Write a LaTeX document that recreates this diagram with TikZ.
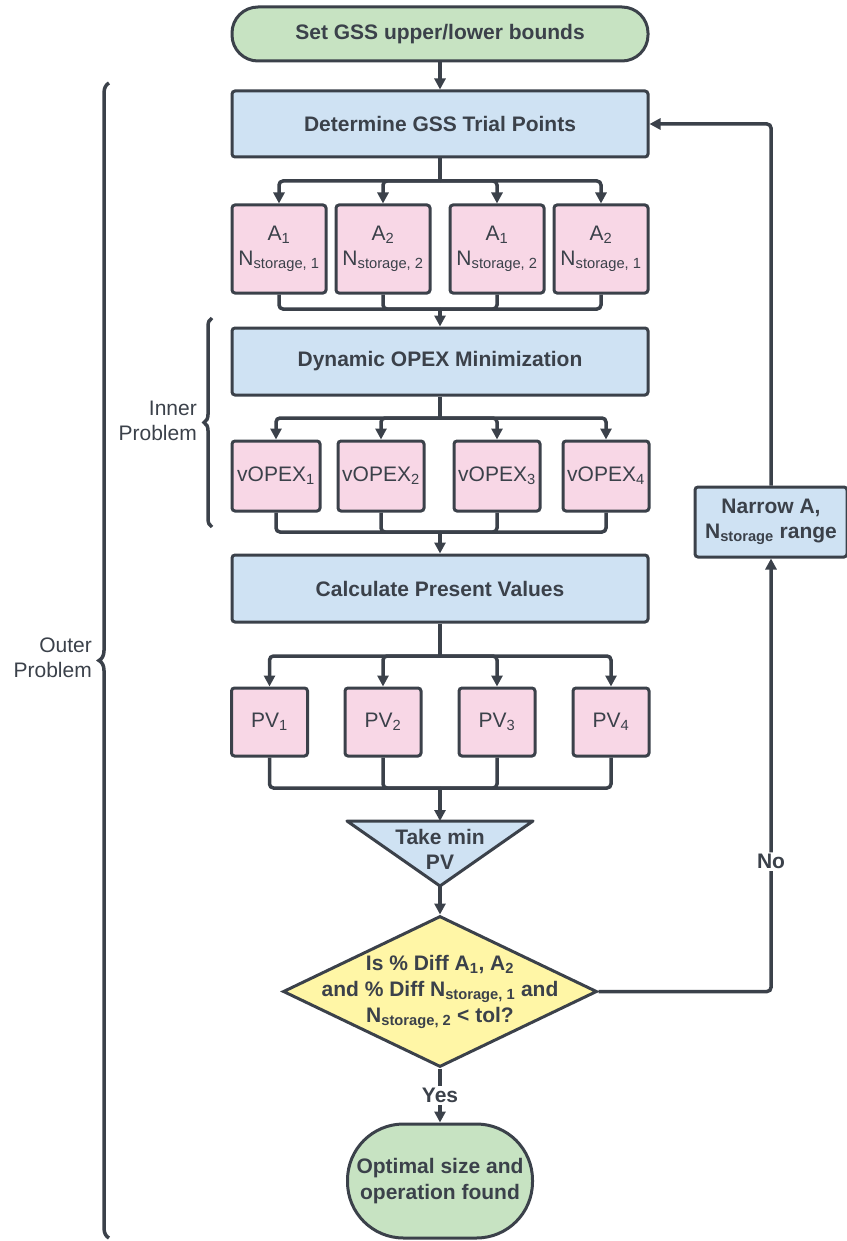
\documentclass[tikz,border=0pt]{standalone}
\usepackage{fontspec}
\setmainfont{Liberation Sans}
\usetikzlibrary{arrows.meta,shapes.geometric,decorations.pathreplacing}

\definecolor{linec}{RGB}{59,65,74}
\definecolor{greenc}{RGB}{199,227,194}
\definecolor{bluec}{RGB}{207,226,243}
\definecolor{pinkc}{RGB}{248,215,230}
\definecolor{yellowc}{RGB}{255,246,166}

\tikzset{
    base/.style = {draw = linec, line width = 3pt, text = linec, inner sep = 0pt, align = center, font = \fontsize{21}{25}\selectfont},
    terminal/.style = {base, fill = greenc, font = \fontsize{21}{26}\selectfont\bfseries},
    process/.style = {base, fill = bluec, rounded corners = 3pt, minimum width = 416pt, minimum height = 66pt, font = \fontsize{21}{25}\selectfont\bfseries},
    item/.style = {base, fill = pinkc, rounded corners = 3pt},
    decision/.style = {base, diamond, fill = yellowc, minimum width = 314pt, minimum height = 151pt},
    dectext/.style = {text = linec, align = center, inner sep = 0pt, font = \fontsize{21}{26}\selectfont\bfseries},
    conn/.style = {draw = linec, line width = 3.5pt, rounded corners = 4pt},
    arr/.style = {conn, -{Triangle[length = 11pt, width = 11pt]}},
    lbl/.style = {text = linec, fill = white, inner sep = 2pt, font = \fontsize{21}{25}\selectfont\bfseries},
    side/.style = {text = linec, align = right, inner sep = 0pt, anchor = east, font = \fontsize{21}{25}\selectfont},
    bracket/.style = {draw = linec, line width = 3.5pt, decorate, decoration = {brace, amplitude = #1}},
}

\begin{document}
\begin{tikzpicture}[x = 1pt, y = -1pt]
        \useasboundingbox ( 0, 0 ) rectangle ( 846, 1241 );

        % начало и конец
        \node [terminal, rounded corners = 26pt, minimum width = 416pt, minimum height = 54pt] (start) at ( 440, 34 ) {Set GSS upper/lower bounds};
        \node [terminal, rounded corners = 56pt, minimum width = 185pt, minimum height = 114pt] (finish) at ( 440, 1181 ) {Optimal size and\\operation found};

        % основные блоки
        \node [process] (trial) at ( 440, 124 ) {Determine GSS Trial Points};
        \node [process, minimum height = 67pt] (opex) at ( 440, 361.5 ) {Dynamic OPEX Minimization};
        \node [process, minimum height = 67pt] (present) at ( 440, 588.5 ) {Calculate Present Values};
        \node [process, minimum width = 152pt, minimum height = 70pt] (narrow) at ( 771, 522 ) {Narrow A,\\N\textsubscript{storage} range};

        % пробные точки
        \node [item, minimum width = 94pt, minimum height = 88pt] (pa) at ( 279, 249 ) {A\textsubscript{1}\\N\textsubscript{storage, 1}};
        \node [item, minimum width = 94pt, minimum height = 88pt] (pb) at ( 383, 249 ) {A\textsubscript{2}\\N\textsubscript{storage, 2}};
        \node [item, minimum width = 94pt, minimum height = 88pt] (pc) at ( 497, 249 ) {A\textsubscript{1}\\N\textsubscript{storage, 2}};
        \node [item, minimum width = 94pt, minimum height = 88pt] (pd) at ( 601, 249 ) {A\textsubscript{2}\\N\textsubscript{storage, 1}};

        % OPEX
        \node [item, minimum width = 88pt, minimum height = 70pt] (va) at ( 276, 476 ) {vOPEX\textsubscript{1}};
        \node [item, minimum width = 86pt, minimum height = 70pt] (vb) at ( 381, 476 ) {vOPEX\textsubscript{2}};
        \node [item, minimum width = 86pt, minimum height = 70pt] (vc) at ( 497, 476 ) {vOPEX\textsubscript{3}};
        \node [item, minimum width = 86pt, minimum height = 70pt] (vd) at ( 606, 476 ) {vOPEX\textsubscript{4}};

        % PV
        \node [item, minimum width = 76pt, minimum height = 68pt] (qa) at ( 269.5, 722 ) {PV\textsubscript{1}};
        \node [item, minimum width = 76pt, minimum height = 68pt] (qb) at ( 383, 722 ) {PV\textsubscript{2}};
        \node [item, minimum width = 76pt, minimum height = 68pt] (qc) at ( 497, 722 ) {PV\textsubscript{3}};
        \node [item, minimum width = 76pt, minimum height = 68pt] (qd) at ( 611, 722 ) {PV\textsubscript{4}};

        % минимум
        \coordinate (tleft) at ( 347, 821 );
        \coordinate (tright) at ( 533, 821 );
        \coordinate (ttop) at ( 440, 821 );
        \coordinate (tapex) at ( 440, 886 );
        \draw [draw = linec, line width = 3pt, line join = round, fill = bluec] (tleft) -- (tright) -- (tapex) -- cycle;
        \node [dectext, font = \fontsize{21}{25}\selectfont\bfseries] (takemin) at ( 440, 849 ) {Take min\\PV};

        % проверка
        \node [decision, label = {[dectext]center:{Is \% Diff A\textsubscript{1}, A\textsubscript{2}\\and \% Diff N\textsubscript{storage, 1} and\\N\textsubscript{storage, 2} < tol?}}] (check) at ( 440, 991.5 ) {};

        % развилки и слияния
        \coordinate (forka) at ( 440, 181 );
        \coordinate (joina) at ( 440, 309 );
        \coordinate (forkb) at ( 440, 418 );
        \coordinate (joinb) at ( 440, 532 );
        \coordinate (forkc) at ( 440, 656 );
        \coordinate (joinc) at ( 440, 788 );

        % стрелки
        \draw [arr] (start) -- (trial);
        \draw [conn] (trial) -- (forka);
        \draw [arr] (forka) -| (pa);
        \draw [arr] (forka) -| (pb);
        \draw [arr] (forka) -| (pc);
        \draw [arr] (forka) -| (pd);
        \draw [conn] (pa) |- (joina);
        \draw [conn] (pb) |- (joina);
        \draw [conn] (pc) |- (joina);
        \draw [conn] (pd) |- (joina);
        \draw [arr] (joina) -- (opex);

        \draw [conn] (opex) -- (forkb);
        \draw [arr] (forkb) -| (va);
        \draw [arr] (forkb) -| (vb);
        \draw [arr] (forkb) -| (vc);
        \draw [arr] (forkb) -| (vd);
        \draw [conn] (va) |- (joinb);
        \draw [conn] (vb) |- (joinb);
        \draw [conn] (vc) |- (joinb);
        \draw [conn] (vd) |- (joinb);
        \draw [arr] (joinb) -- (present);

        \draw [conn] (present) -- (forkc);
        \draw [arr] (forkc) -| (qa);
        \draw [arr] (forkc) -| (qb);
        \draw [arr] (forkc) -| (qc);
        \draw [arr] (forkc) -| (qd);
        \draw [conn] (qa) |- (joinc);
        \draw [conn] (qb) |- (joinc);
        \draw [conn] (qc) |- (joinc);
        \draw [conn] (qd) |- (joinc);
        \draw [arr] (joinc) -- (ttop);
        \draw [arr] (tapex) -- (check);

        \draw [arr] (check) -- node [lbl] {Yes} (finish);
        \draw [arr] (check) -| node [lbl, pos = 0.65] {No} (narrow);
        \draw [arr] (narrow) |- (trial);

        % скобки
        \draw [bracket = 10pt] ( 109, 1238 ) -- ( 109, 83 );
        \draw [bracket = 8pt] ( 212, 527 ) -- ( 212, 318 );
        \node [side] (outer) at ( 92, 658 ) {Outer\\Problem};
        \node [side] (inner) at ( 197, 421 ) {Inner\\Problem};
    \end{tikzpicture}
\end{document}
